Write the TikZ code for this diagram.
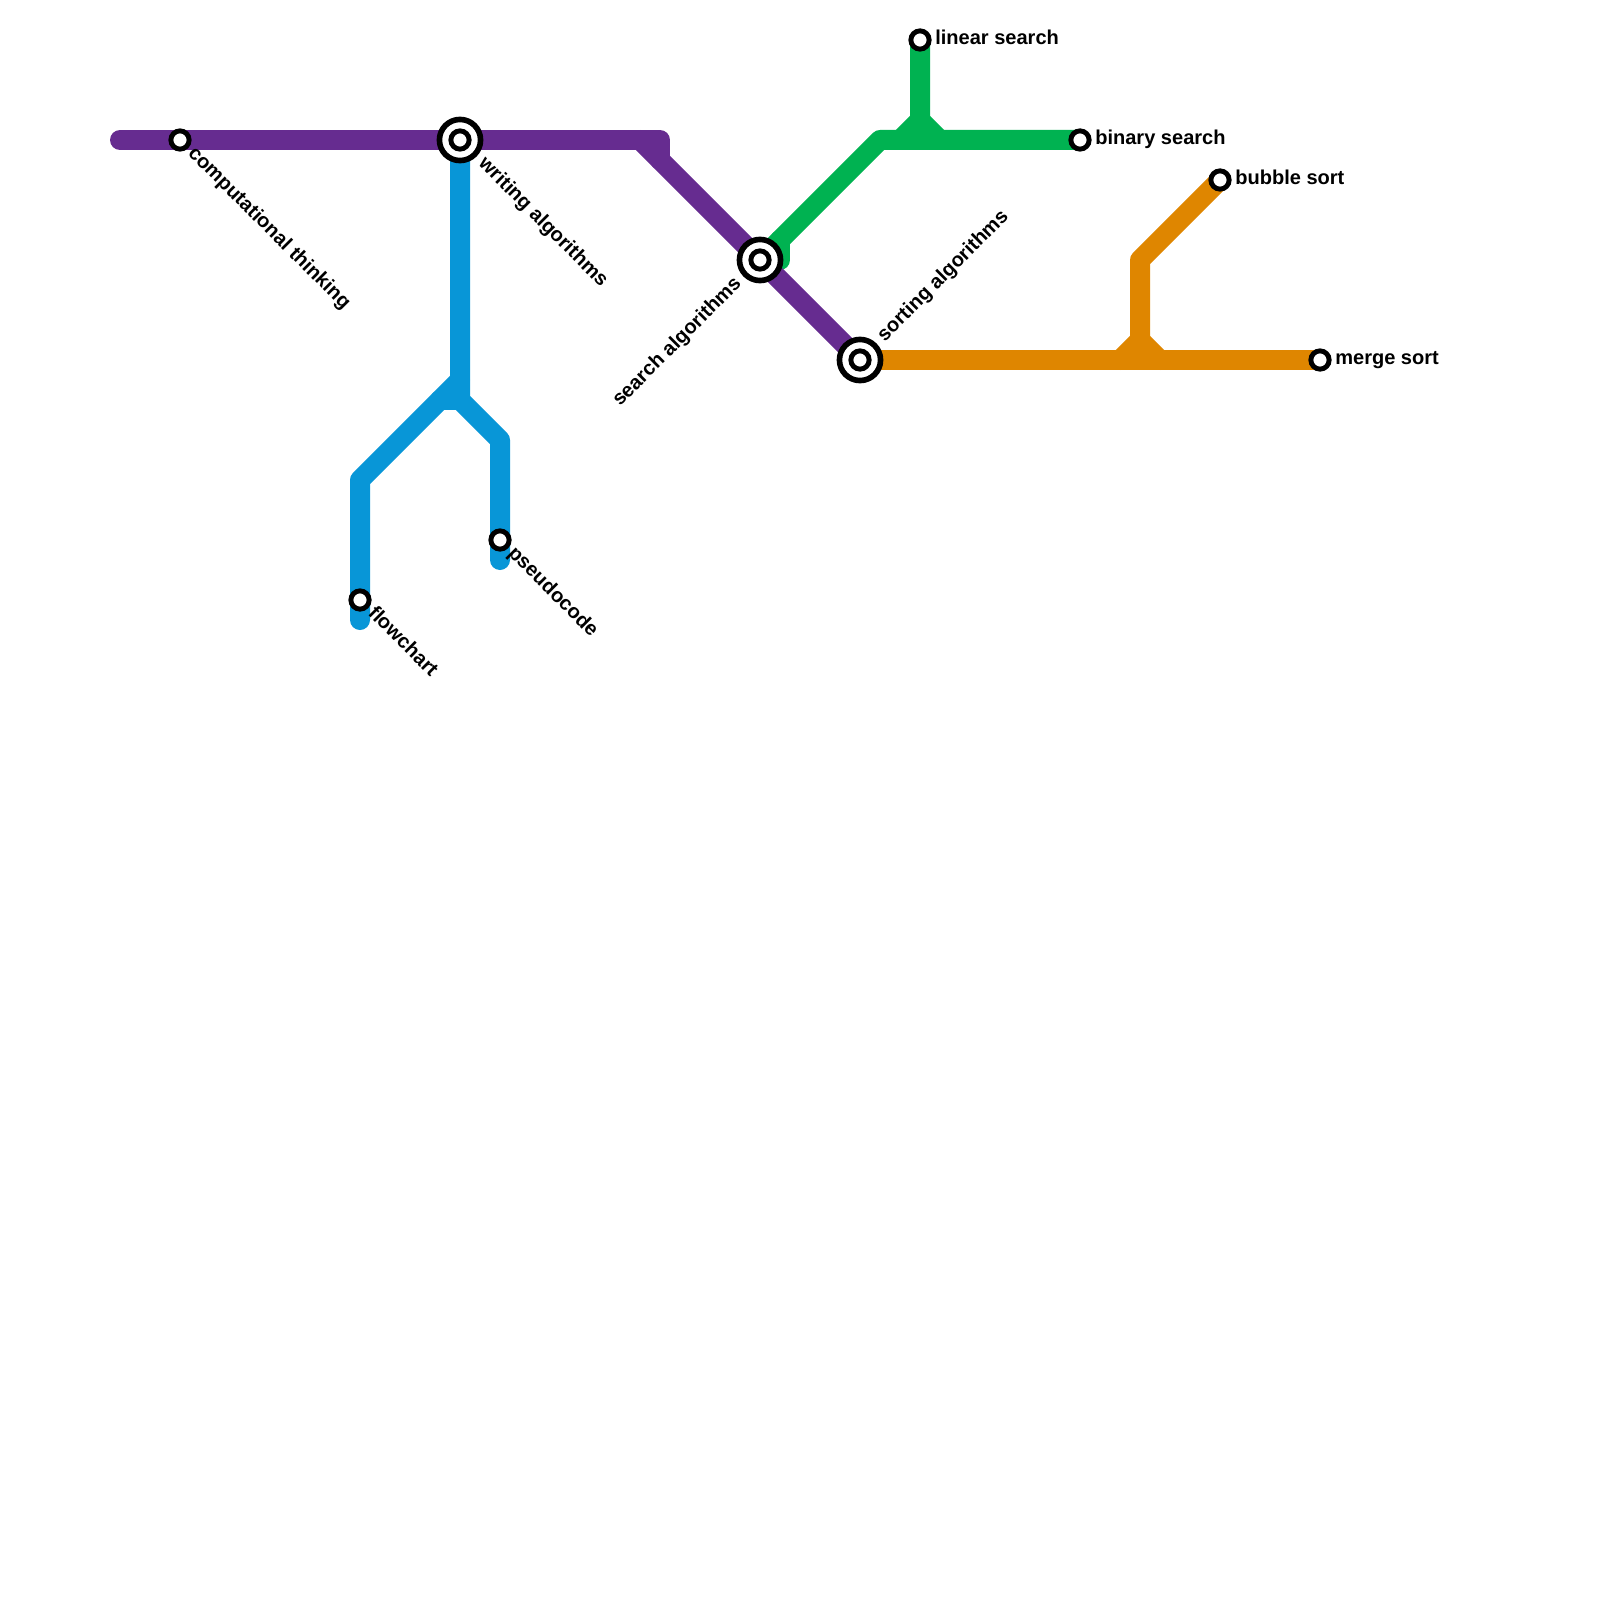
\documentclass[tikz,border=0pt]{standalone}
\usepackage{fontspec}
\setmainfont{Liberation Sans}
\usetikzlibrary{positioning}
\definecolor{lnPurple}{HTML}{662C90}
\definecolor{lnBlue}{HTML}{0896D7}
\definecolor{lnGreen}{HTML}{00B251}
\definecolor{lnOrange}{HTML}{DF8600}
\tikzset{
  metro/.style={line width=0.4cm, line join=round, line cap=round},
  stop/.style={circle, draw=black, fill=white, line width=2.8pt, minimum size=10.4pt, inner sep=0pt},
  hub/.style={circle, draw=black, fill=white, line width=3.2pt, minimum size=23.4pt, inner sep=0pt},
  lbl/.style={font=\fontsize{11.4pt}{13pt}\selectfont\bfseries, inner sep=0pt, text=black},
  lblout/.style={lbl, anchor=base west, xshift=8.5pt, yshift=-2.8pt},
  lblhub/.style={lbl, anchor=base west, xshift=17pt, yshift=-2.8pt},
  lblin/.style={lbl, anchor=base east, xshift=-17pt, yshift=-2.8pt}
}
\begin{document}
\begin{tikzpicture}[x=0.4cm,y=-0.4cm]
  \useasboundingbox (0,0) rectangle (80,80);
  \coordinate (thinking) at (9,7);
  \coordinate (writing) at (23,7);
  \coordinate (searching) at (38,13);
  \coordinate (sorting) at (43,18);
  \coordinate (linear) at (46,2);
  \coordinate (binary) at (54,7);
  \coordinate (bubble) at (61,9);
  \coordinate (merge) at (66,18);
  \coordinate (flow) at (18,30);
  \coordinate (pseudo) at (25,27);
  % lines
  \draw[metro, lnGreen] (searching) -- (44,7) -- (binary);
  \draw[metro, lnGreen] (searching) -- (39,13) -- (39,12);
  \draw[metro, lnGreen] (linear) -- (46,6) -- (45,7);
  \draw[metro, lnGreen] (46,6) -- (47,7);
  \draw[metro, lnOrange] (sorting) -- (merge);
  \draw[metro, lnOrange] (bubble) -- (57,13) -- (57,17) -- (56,18);
  \draw[metro, lnOrange] (57,17) -- (58,18);
  \draw[metro, lnBlue] (writing) -- (23,20) -- (25,22) -- (25,28);
  \draw[metro, lnBlue] (23,19) -- (18,24) -- (18,31);
  \draw[metro, lnBlue] (22,20) -- (23,20);
  \draw[metro, lnPurple] (6,7) -- (33,7) -- (33,8);
  \draw[metro, lnPurple] (32,7) -- (sorting);
  % stations
  \node[stop] (thinkingS) at (thinking) {};
  \node[stop] (linearS) at (linear) {};
  \node[stop] (binaryS) at (binary) {};
  \node[stop] (bubbleS) at (bubble) {};
  \node[stop] (mergeS) at (merge) {};
  \node[stop] (flowS) at (flow) {};
  \node[stop] (pseudoS) at (pseudo) {};
  \node[hub] (writingH) at (writing) {};
  \node[hub] (searchingH) at (searching) {};
  \node[hub] (sortingH) at (sorting) {};
  \node[stop] (writingS) at (writing) {};
  \node[stop] (searchingS) at (searching) {};
  \node[stop] (sortingS) at (sorting) {};
  % labels
  \node[rotate=-45, lblout] (thinkingL) at (thinking) {computational thinking};
  \node[rotate=-45, lblhub] (writingL) at (writing) {writing algorithms};
  \node[rotate=-45, lblout] (flowL) at (flow) {flowchart};
  \node[rotate=-45, lblout] (pseudoL) at (pseudo) {pseudocode};
  \node[rotate=45, lblin] (searchingL) at (searching) {search algorithms};
  \node[rotate=45, lblhub] (sortingL) at (sorting) {sorting algorithms};
  \node[lblout] (linearL) at (linear) {linear search};
  \node[lblout] (binaryL) at (binary) {binary search};
  \node[lblout] (bubbleL) at (bubble) {bubble sort};
  \node[lblout] (mergeL) at (merge) {merge sort};
\end{tikzpicture}
\end{document}
